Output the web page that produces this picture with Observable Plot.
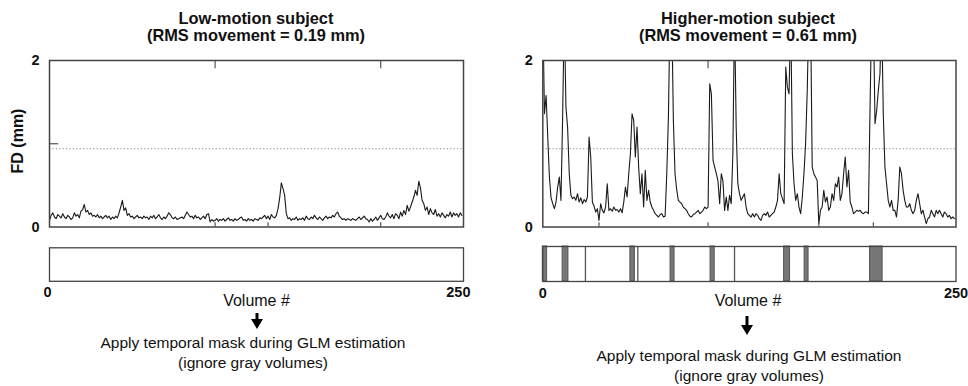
<!DOCTYPE html>
<html><head><meta charset="utf-8">
<script src="https://cdn.jsdelivr.net/npm/d3@7"></script>
<script src="https://cdn.jsdelivr.net/npm/@observablehq/plot@0.6"></script>
<style>
body{margin:0;background:#fff}
#chart{position:relative;width:968px;height:386px;overflow:hidden;background:#fff;font-family:"Liberation Sans",Arial,sans-serif;color:#111}
.abs{position:absolute;white-space:nowrap}
.title{font-weight:bold;font-size:16.4px;line-height:17px;text-align:center;transform:translateX(-50%)}
.vol{font-size:16px;line-height:18px;transform:translateX(-50%)}
.cap{font-size:15.5px;line-height:20px;text-align:center;transform:translateX(-50%)}
.ylab{font-weight:bold;font-size:16px;line-height:18px;transform:translate(-50%,-50%) rotate(-90deg)}
</style></head>
<body>
<div id="chart"></div>
<script>
// ---- data ----
const volumeTickLabels = [0, 250];
const fdTickLabels = [0, 2];
const threshold = [0.94];

const lowFD = [
0.08,0.14,0.17,0.12,0.10,0.15,0.13,0.11,0.16,0.12,
0.10,0.14,0.12,0.09,0.11,0.17,0.13,0.15,0.11,0.19,
0.21,0.27,0.18,0.20,0.15,0.17,0.13,0.14,0.12,0.15,
0.11,0.13,0.10,0.12,0.14,0.11,0.13,0.09,0.12,0.10,
0.13,0.11,0.17,0.24,0.32,0.20,0.23,0.14,0.16,0.12,
0.13,0.10,0.12,0.14,0.11,0.12,0.10,0.13,0.11,0.12,
0.09,0.13,0.11,0.14,0.10,0.12,0.15,0.11,0.09,0.12,
0.10,0.13,0.17,0.15,0.11,0.10,0.12,0.09,0.10,0.11,
0.12,0.10,0.14,0.18,0.15,0.12,0.13,0.10,0.14,0.11,
0.12,0.09,0.11,0.13,0.10,0.15,0.16,0.06,0.09,0.07,
0.08,0.10,0.07,0.09,0.08,0.10,0.07,0.09,0.11,0.08,
0.09,0.07,0.10,0.08,0.09,0.11,0.12,0.08,0.09,0.07,
0.10,0.08,0.09,0.07,0.10,0.09,0.08,0.11,0.10,0.12,
0.14,0.10,0.13,0.09,0.15,0.12,0.11,0.14,0.22,0.35,
0.53,0.46,0.38,0.16,0.10,0.11,0.08,0.10,0.09,0.12,
0.08,0.10,0.09,0.11,0.08,0.13,0.10,0.09,0.12,0.10,
0.14,0.11,0.09,0.12,0.10,0.08,0.11,0.13,0.10,0.12,
0.11,0.14,0.12,0.16,0.18,0.13,0.11,0.09,0.10,0.08,
0.10,0.09,0.08,0.10,0.09,0.08,0.10,0.12,0.09,0.11,
0.13,0.10,0.09,0.06,0.10,0.07,0.09,0.12,0.08,0.11,
0.14,0.10,0.09,0.12,0.17,0.13,0.11,0.15,0.10,0.16,
0.14,0.10,0.18,0.13,0.20,0.15,0.26,0.19,0.24,0.30,
0.36,0.44,0.38,0.55,0.47,0.32,0.28,0.20,0.24,0.15,
0.22,0.17,0.15,0.21,0.13,0.16,0.12,0.17,0.14,0.11,
0.15,0.13,0.18,0.12,0.17,0.14,0.16,0.12,0.17,0.14
];

const highFD = [
2.6,1.36,1.58,1.08,0.60,0.35,0.28,0.22,0.30,0.48,
0.60,0.32,1.32,2.6,1.44,1.20,0.64,0.38,0.34,0.36,
0.32,0.40,0.30,0.35,0.28,0.33,0.30,0.36,1.08,0.84,
0.30,0.25,0.18,0.22,0.08,0.28,0.20,0.17,0.24,0.52,
0.20,0.22,0.19,0.24,0.20,0.21,0.18,0.22,0.17,0.30,
0.48,0.36,0.64,0.88,1.36,1.28,0.84,1.20,0.72,0.40,
0.64,0.24,0.68,0.32,0.44,0.30,0.24,0.20,0.16,0.14,
0.12,0.15,0.16,0.12,0.13,0.64,1.32,2.6,2.6,1.28,
0.64,0.45,0.32,0.30,0.28,0.24,0.22,0.20,0.16,0.13,
0.12,0.15,0.16,0.18,0.20,0.16,0.18,0.20,0.24,0.22,
0.24,1.72,1.60,0.80,0.72,0.64,0.55,0.28,0.64,0.55,
0.20,0.36,0.20,0.38,0.28,0.88,2.6,1.20,0.52,0.40,
0.32,0.36,0.40,0.24,0.16,0.14,0.12,0.16,0.12,0.16,
0.14,0.10,0.08,0.14,0.16,0.14,0.18,0.12,0.14,0.16,
0.18,0.24,0.32,0.64,0.40,0.34,0.28,1.92,1.68,1.60,
2.6,0.88,0.52,0.32,0.40,0.24,0.16,0.36,0.64,1.00,
1.64,2.6,2.6,0.72,0.64,0.60,0.56,0.04,0.20,0.24,
0.44,0.30,0.36,0.20,0.24,0.40,0.32,0.52,0.48,0.60,
0.32,0.40,0.64,0.84,0.48,0.68,0.30,0.24,0.16,0.18,
0.20,0.19,0.20,0.17,0.16,0.18,0.18,0.16,1.44,2.6,
2.6,1.24,1.40,1.64,1.84,2.6,1.36,0.72,0.52,0.32,
0.24,0.32,0.20,0.20,0.12,0.32,0.72,0.64,0.44,0.32,
0.24,0.24,0.28,0.20,0.16,0.20,0.32,0.40,0.28,0.16,
0.20,0.12,0.04,0.10,0.12,0.20,0.16,0.12,0.20,0.16,
0.20,0.16,0.12,0.18,0.16,0.12,0.14,0.10,0.12,0.10
];

// censored (gray) volumes, high-motion subject
const highMaskStart = [0, 12, 53, 77.3, 101.5, 146, 158.4, 198];
const highMaskEnd   = [2.6, 15.5, 55.7, 79.7, 104, 149.6, 160.8, 205.6];
const highMaskSingle = [25.8, 57.5, 116];
const lowMaskStart = [];
const lowMaskEnd = [];
const lowMaskSingle = [];

const lowTopTicks = [100, 200];
const lowBottomTicks = [100, 132, 200];
const highTopTicks = [100];
const highBottomTicks = [34, 100, 167, 200];

const titles = {
  low: ["Low-motion subject", "(RMS movement = 0.19 mm)"],
  high: ["Higher-motion subject", "(RMS movement = 0.61 mm)"]
};
const axisLabelY = "FD (mm)";
const axisLabelX = "Volume #";
const captionLines = ["Apply temporal mask during GLM estimation", "(ignore gray volumes)"];

// ---- drawing ----
const chart = document.getElementById("chart");
function place(node, left, top) {
  const d = document.createElement("div");
  d.className = "abs";
  d.style.left = left + "px";
  d.style.top = top + "px";
  d.appendChild(node);
  chart.appendChild(d);
  return d;
}
function addText(cls, html, left, top) {
  const d = document.createElement("div");
  d.className = "abs " + cls;
  d.style.left = left + "px";
  d.style.top = top + "px";
  d.innerHTML = html;
  chart.appendChild(d);
}
const baseStyle = {fontFamily: "'Liberation Sans', Arial, sans-serif", fontSize: "14.5px", fontWeight: "bold", color: "#111", background: "transparent", overflow: "visible"};

function panel(opt) {
  const fdPlot = Plot.plot({
    width: 484, height: 240,
    marginLeft: opt.ml, marginRight: opt.mr, marginTop: 60, marginBottom: 13.5,
    style: baseStyle,
    x: {domain: [0, 250], axis: null},
    y: {domain: [0, 2], ticks: fdTickLabels, tickSize: 0, tickPadding: 10, label: null, tickFormat: d => String(d)},
    marks: [
      Plot.ruleY(threshold, {stroke: "#888", strokeWidth: 1, strokeDasharray: "1.2,2.2"}),
      Plot.lineY(opt.fd, {stroke: "#1a1a1a", strokeWidth: 1.1, clip: true}),
      Plot.ruleX(opt.topTicks, {y1: 2, y2: 1.9, stroke: "#555", strokeWidth: 1.2}),
      Plot.ruleX(opt.bottomTicks, {y1: 0, y2: 0.05, stroke: "#555", strokeWidth: 1.2}),
      Plot.ruleY(opt.sideTicks, {x1: 0, x2: 5.5, stroke: "#555", strokeWidth: 1.2}),
      Plot.frame({stroke: "#444", strokeWidth: 1.5})
    ]
  });
  place(fdPlot, opt.left, 0);

  const maskPlot = Plot.plot({
    width: 484, height: 80,
    marginLeft: opt.ml, marginRight: opt.mr, marginTop: opt.barTop, marginBottom: 80 - opt.barTop - opt.barH,
    style: baseStyle,
    x: {domain: [0, 250], axis: null},
    marks: [
      Plot.rect(opt.maskStart, {x1: d => d, x2: (d, i) => opt.maskEnd[i], fill: "#777", stroke: "#555", strokeWidth: 1}),
      Plot.ruleX(opt.maskSingle, {stroke: "#555", strokeWidth: 1.3}),
      Plot.frame({stroke: "#444", strokeWidth: 1.3}),
      Plot.text([volumeTickLabels[0]], {x: d => d, text: d => String(d), frameAnchor: "bottom", dy: 16, dx: opt.zeroDx, fill: "#111"}),
      Plot.text([volumeTickLabels[1]], {x: d => d, text: d => String(d), frameAnchor: "bottom", dy: 16, dx: opt.endDx, textAnchor: opt.endAnchor, fill: "#111"})
    ]
  });
  place(maskPlot, opt.left, 236);

  addText("title", opt.title[0] + "<br>" + opt.title[1], opt.cx, 9.5);
  addText("vol", axisLabelX, opt.volX, 292);
  addText("cap", captionLines[0] + "<br>" + captionLines[1], opt.capX, opt.capTop);

  const ns = "http://www.w3.org/2000/svg";
  const a = document.createElementNS(ns, "svg");
  const h = opt.arrowH;
  a.setAttribute("width", 16); a.setAttribute("height", h + 1);
  a.innerHTML = `<path d="M8 0 V${h - 8}" stroke="#000" stroke-width="3"/><path d="M2 ${h - 10} L14 ${h - 10} L8 ${h} Z" fill="#000"/>`;
  place(a, opt.arrowX - 8, opt.arrowTop);
}

panel({left: 0, ml: 49, mr: 21, fd: lowFD, topTicks: lowTopTicks, bottomTicks: lowBottomTicks, sideTicks: [1],
  maskStart: lowMaskStart, maskEnd: lowMaskEnd, maskSingle: lowMaskSingle, barTop: 11.3, barH: 33.5,
  zeroDx: -2, endDx: 7, endAnchor: "end", title: titles.low, cx: 256, volX: 256.5,
  capX: 253, capTop: 333, arrowX: 257, arrowTop: 313, arrowH: 16});
panel({left: 484, ml: 58.3, mr: 12.5, fd: highFD, topTicks: highTopTicks, bottomTicks: highBottomTicks, sideTicks: [],
  maskStart: highMaskStart, maskEnd: highMaskEnd, maskSingle: highMaskSingle, barTop: 10, barH: 35,
  zeroDx: 0, endDx: 0, endAnchor: "middle", title: titles.high, cx: 748, volX: 748,
  capX: 749, capTop: 346, arrowX: 747, arrowTop: 316, arrowH: 19});

addText("ylab", axisLabelY, 17.5, 141);
</script>
</body></html>
